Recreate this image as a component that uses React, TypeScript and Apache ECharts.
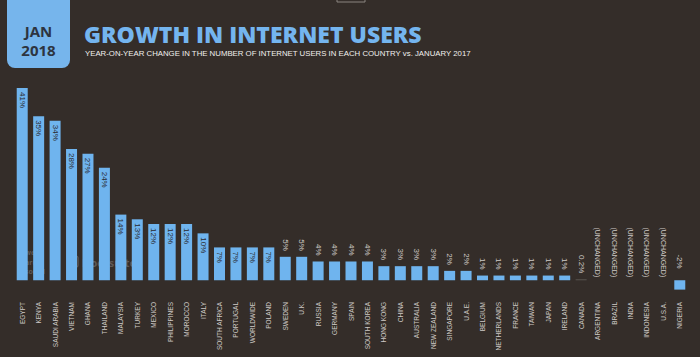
import React, { useEffect, useRef } from "react";
import * as echarts from "echarts";

const countries = [
  "EGYPT", "KENYA", "SAUDI ARABIA", "VIETNAM", "GHANA", "THAILAND", "MALAYSIA", "TURKEY",
  "MEXICO", "PHILIPPINES", "MOROCCO", "ITALY", "SOUTH AFRICA", "PORTUGAL", "WORLDWIDE",
  "POLAND", "SWEDEN", "U.K.", "RUSSIA", "GERMANY", "SPAIN", "SOUTH KOREA", "HONG KONG",
  "CHINA", "AUSTRALIA", "NEW ZEALAND", "SINGAPORE", "U.A.E.", "BELGIUM", "NETHERLANDS",
  "FRANCE", "TAIWAN", "JAPAN", "IRELAND", "CANADA", "ARGENTINA", "BRAZIL", "INDIA",
  "INDONESIA", "U.S.A.", "NIGERIA",
];

const growth = [
  41, 35, 34, 28, 27, 24, 14, 13, 12, 12, 12, 10, 7, 7, 7, 7, 5, 5, 4, 4, 4, 4, 3, 3, 3, 3,
  2, 2, 1, 1, 1, 1, 1, 1, 0.2, 0, 0, 0, 0, 0, -2,
];

const BG = "#342d29";
const BLUE = "#6fb4ee";
const LIGHT = "#cfcac6";
const NARROW = "'Liberation Sans Narrow', 'Liberation Sans', Arial, sans-serif";

export default function App() {
  const ref = useRef<HTMLDivElement>(null);

  useEffect(() => {
    if (!ref.current) return;
    const chart = echarts.init(ref.current, null, { renderer: "svg" });

    const data = growth.map((v) => {
      const text = v === 0 ? "(UNCHANGED)" : `${v}%`;
      const inside = v >= 7;
      return {
        value: v,
        itemStyle: { color: v > 0 && v < 0.5 ? "#5a5652" : BLUE },
        label: inside
          ? {
              show: true,
              position: "insideTop",
              distance: 4,
              rotate: -90,
              align: "left",
              verticalAlign: "middle",
              color: "#2a2a2e",
              fontSize: 8,
              fontFamily: NARROW,
              formatter: text,
            }
          : {
              show: true,
              position: v < 0 ? "insideBottom" : "top",
              distance: v < 0 ? 21 : v === 0 ? 3 : 6,
              rotate: -90,
              align: "right",
              verticalAlign: "middle",
              color: LIGHT,
              fontSize: v === 0 ? 7 : 8,
              fontFamily: NARROW,
              formatter: text,
            },
      };
    });

    chart.setOption({
      animation: false,
      backgroundColor: BG,
      grid: { left: 14, right: 12, top: 88, bottom: 58 },
      xAxis: {
        type: "category",
        data: countries,
        axisLine: { show: false, onZero: false },
        axisTick: { show: false },
        axisLabel: {
          interval: 0,
          rotate: 90,
          margin: 3,
          color: LIGHT,
          fontSize: 6.5,
          fontFamily: NARROW,
        },
      },
      yAxis: {
        type: "value",
        min: -4,
        max: 41,
        show: false,
        splitLine: { show: false },
      },
      series: [
        {
          type: "bar",
          data,
          barWidth: 11,
        },
      ],
      graphic: [
        {
          type: "rect",
          shape: { x: 337, y: -6, width: 28, height: 8 },
          style: { fill: "none", stroke: "#8a8580", lineWidth: 1 },
        },
        {
          type: "rect",
          shape: { x: 7, y: -12, width: 63, height: 80, r: 8 },
          style: { fill: "#76b5ec" },
        },
        {
          type: "text",
          x: 38.5,
          y: 40,
          style: {
            text: "JAN\n2018",
            fill: "#2d3440",
            font: "bold 15px 'Open Sans', Arial, sans-serif",
            lineHeight: 19,
            textAlign: "center",
            textVerticalAlign: "middle",
          },
        },
        {
          type: "text",
          x: 84,
          y: 34,
          style: {
            text: "GROWTH IN INTERNET USERS",
            fill: "#74b5ef",
            font: "800 23px 'Open Sans', sans-serif",
            textAlign: "left",
            textVerticalAlign: "middle",
          },
        },
        {
          type: "text",
          x: 85,
          y: 53.5,
          style: {
            text: "YEAR-ON-YEAR CHANGE IN THE NUMBER OF INTERNET USERS IN EACH COUNTRY vs. JANUARY 2017",
            fill: "#f2f0ee",
            font: "7.8px " + NARROW,
            textAlign: "left",
            textVerticalAlign: "middle",
          },
        },
        {
          type: "text",
          x: 25,
          y: 248,
          style: {
            text: "we\nare\nsocial",
            fill: "rgba(255,255,255,0.22)",
            font: "bold 7px 'Open Sans', sans-serif",
            lineHeight: 9.5,
            textAlign: "left",
            textVerticalAlign: "top",
          },
        },
        {
          type: "text",
          x: 82,
          y: 262,
          style: {
            text: "Hootsuite",
            fill: "rgba(255,255,255,0.22)",
            font: "bold 11px 'Open Sans', sans-serif",
            textAlign: "left",
            textVerticalAlign: "middle",
          },
        },
        {
          type: "rect",
          shape: { x: 68, y: 256, width: 10, height: 11, r: 2 },
          style: { fill: "none", stroke: "rgba(255,255,255,0.22)", lineWidth: 1.2 },
        },
      ],
    });

    return () => chart.dispose();
  }, []);

  return <div ref={ref} style={{ width: 700, height: 357, position: "fixed", left: 0, top: 0 }} />;
}
